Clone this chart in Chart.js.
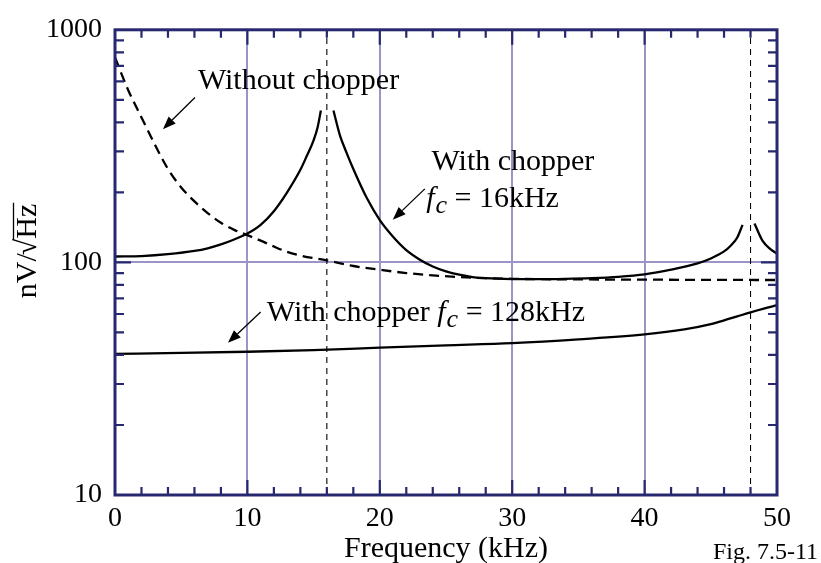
<!DOCTYPE html>
<html><head><meta charset="utf-8">
<script src="https://cdn.jsdelivr.net/npm/chart.js@4"></script>
<style>html,body{margin:0;padding:0;background:#fff}#wrap{width:821px;height:563px;position:relative}</style>
</head><body><div id="wrap"><canvas id="c"></canvas></div>
<script>
// ---- data (frequency in kHz, noise in nV/sqrt(Hz)) ----
const freqNoChop = [0,1,2,3,4,5,6,7,8,9,10,11,12,13,14,16,18,20,22,24,26,28,30,35,40,45,50];
const valNoChop  = [760,550,420,322,252,210,183,163,148,138,131,124,117,111,107,102,96.5,93,90,88,86.5,85.5,85,84.5,84.3,84.1,84];

const freqChop16 = [0,2,4,6,7,8,9,10,11,12,13,14,14.5,15,15.3,15.55,16,16.5,16.8,17,17.5,18,19,20,21,22,23,24,25,26,27,28,30,32,34,36,38,40,42,44,45,46,46.5,47,47.4,48,48.3,48.9,49.5,50];
const valChop16  = [106,106.5,108.5,112,115,119.5,125.5,133,145,166,200,250,288,335,380,450,null,450,385,350,295,252,190,152,129,113,103,96,91.5,88.5,86.5,85.5,84.8,84.7,85,85.6,86.7,88.8,93,99,104,111.5,118,128,145,null,147,124,114,109];

const freqChop128 = [0,5,10,15,20,25,30,35,40,43,45,46,47,48,49,50];
const valChop128  = [40.4,40.8,41.3,42,43,44,45,46.7,49,51.5,54.3,56.3,58.6,61,63.3,65.5];

const markerFreqs = [16,48];          // dashed chopper-frequency markers
const xTickLabels = [0,10,20,30,40,50];
const yTickLabels = [10,100,1000];
const yMinorTicks = [20,30,40,50,60,70,80,90,200,300,400,500,600,700,800,900];

const annotTexts = [
  {text:'Without chopper', x:6.26, y:554},
  {text:'With chopper', x:23.9, y:250},
  {text:'f_c = 16kHz', x:23.5, y:173.5},
  {text:'With chopper f_c = 128kHz', x:11.47, y:56}
];
const annotArrows = [
  {x1:6.04, y1:512, x2:3.62, y2:374},
  {x1:23.4, y1:207, x2:20.98, y2:152.7},
  {x1:11.0, y1:61.2, x2:8.53, y2:45.1}
];

const NAVY = '#27286e';
const GRID = '#9a95c6';
const FONT = '"Liberation Serif", "Times New Roman", serif';

const toPts = (xs, ys) => xs.map((x,i)=>({x:x, y:ys[i]}));

const datasets = [
  {data: toPts(freqNoChop,valNoChop), borderColor:'#000', borderWidth:2.3, borderDash:[10,6], pointRadius:0, cubicInterpolationMode:'monotone', fill:false},
  {data: toPts(freqChop16,valChop16), borderColor:'#000', borderWidth:2.3, pointRadius:0, cubicInterpolationMode:'monotone', spanGaps:false, fill:false},
  {data: toPts(freqChop128,valChop128), borderColor:'#000', borderWidth:2.3, pointRadius:0, cubicInterpolationMode:'monotone', fill:false}
];
markerFreqs.forEach(f => datasets.push({data:[{x:f,y:10},{x:f,y:1000}], borderColor:'#000', borderWidth:1.1, borderDash:[6,5], pointRadius:0, fill:false}));

function drawFcText(ctx, str, px, py, size){
  const parts = str.split('f_c');
  let x = px;
  ctx.textBaseline = 'alphabetic'; ctx.textAlign = 'left';
  parts.forEach((p, i) => {
    ctx.font = size + 'px ' + FONT;
    ctx.fillText(p, x, py); x += ctx.measureText(p).width;
    if (i < parts.length - 1) {
      ctx.font = 'italic ' + size + 'px ' + FONT;
      ctx.fillText('f', x, py); x += ctx.measureText('f').width + 1;
      ctx.font = 'italic ' + Math.round(size*0.85) + 'px ' + FONT;
      ctx.fillText('c', x, py + 6); x += ctx.measureText('c').width;
    }
  });
}

const decor = {
  id:'decor',
  afterDraw(chart){
    const ctx = chart.ctx, a = chart.chartArea, xs = chart.scales.x, ys = chart.scales.y;
    ctx.save();
    ctx.strokeStyle = NAVY; ctx.lineWidth = 2.2;
    ctx.beginPath();
    for (let v = 2; v < 50; v += 2) {
      const px = xs.getPixelForValue(v), len = (v % 10 === 0) ? 15 : 8;
      ctx.moveTo(px, a.bottom); ctx.lineTo(px, a.bottom - len);
      ctx.moveTo(px, a.top); ctx.lineTo(px, a.top + len);
    }
    yMinorTicks.forEach(v => {
      const py = ys.getPixelForValue(v);
      ctx.moveTo(a.left, py); ctx.lineTo(a.left + 9, py);
      ctx.moveTo(a.right, py); ctx.lineTo(a.right - 9, py);
    });
    const p100 = ys.getPixelForValue(100);
    ctx.moveTo(a.left, p100); ctx.lineTo(a.left + 16, p100);
    ctx.moveTo(a.right, p100); ctx.lineTo(a.right - 16, p100);
    ctx.stroke();
    ctx.lineWidth = 3; ctx.strokeStyle = NAVY;
    ctx.strokeRect(a.left, a.top, a.right - a.left, a.bottom - a.top);
    ctx.fillStyle = '#000';
    annotTexts.forEach(t => drawFcText(ctx, t.text, xs.getPixelForValue(t.x), ys.getPixelForValue(t.y), 30));
    annotArrows.forEach(ar => {
      const x1 = xs.getPixelForValue(ar.x1), y1 = ys.getPixelForValue(ar.y1);
      const x2 = xs.getPixelForValue(ar.x2), y2 = ys.getPixelForValue(ar.y2);
      const ang = Math.atan2(y2 - y1, x2 - x1), L = 13, W = 5;
      const bx = x2 - L*Math.cos(ang), by = y2 - L*Math.sin(ang);
      ctx.strokeStyle = '#000'; ctx.lineWidth = 1.3;
      ctx.beginPath(); ctx.moveTo(x1, y1); ctx.lineTo(bx, by); ctx.stroke();
      ctx.beginPath(); ctx.moveTo(x2, y2);
      ctx.lineTo(bx + W*Math.sin(ang), by - W*Math.cos(ang));
      ctx.lineTo(bx - W*Math.sin(ang), by + W*Math.cos(ang));
      ctx.closePath(); ctx.fill();
    });
    ctx.font = '30px ' + FONT; ctx.textAlign = 'center'; ctx.textBaseline = 'alphabetic';
    ctx.fillText('Frequency (kHz)', (a.left + a.right)/2, 557);
    ctx.font = '24px ' + FONT; ctx.textAlign = 'left';
    ctx.fillText('Fig. 7.5-11', 713, 559);
    ctx.translate(36, 250); ctx.rotate(-Math.PI/2);
    ctx.font = '30px ' + FONT; ctx.textAlign = 'left';
    const s1 = 'nV/', s2 = '\u221A', s3 = 'Hz';
    const w1 = ctx.measureText(s1).width, w2 = ctx.measureText(s2).width, w3 = ctx.measureText(s3).width;
    let x0 = -(w1 + w2 + w3)/2;
    ctx.fillText(s1, x0, 0); ctx.fillText(s2, x0 + w1 - 2, 0); ctx.fillText(s3, x0 + w1 + w2 - 2, 0);
    ctx.lineWidth = 1.3; ctx.strokeStyle = '#000';
    ctx.beginPath(); ctx.moveTo(x0 + w1 + w2 - 3, -22.5); ctx.lineTo(x0 + w1 + w2 + w3 - 1, -22.5); ctx.stroke();
    ctx.restore();
  }
};

new Chart(document.getElementById('c'), {
  type:'line',
  data:{datasets:datasets},
  plugins:[decor],
  options:{
    responsive:true, maintainAspectRatio:false, animation:false,
    layout:{padding:{left:0, top:27, right:44, bottom:0}},
    plugins:{legend:{display:false}, tooltip:{enabled:false}},
    elements:{line:{borderCapStyle:'butt'}},
    scales:{
      x:{
        type:'linear', min:0, max:50,
        afterFit(s){ s.height = 68; },
        afterBuildTicks(s){ const t=[]; for(let v=0; v<=50; v+=2) t.push({value:v}); s.ticks = t; },
        ticks:{autoSkip:false, maxRotation:0, padding:7, color:'#000', font:{family:FONT, size:28},
          callback:(v)=> xTickLabels.includes(v) ? String(v) : ''},
        grid:{drawTicks:false, lineWidth:2, color:(c)=> (c.tick && c.tick.value % 10 === 0 && c.tick.value > 0 && c.tick.value < 50) ? GRID : 'rgba(0,0,0,0)'},
        border:{display:false}
      },
      y:{
        type:'logarithmic', min:10, max:1000,
        afterFit(s){ s.width = 115; },
        afterBuildTicks(s){ s.ticks = yTickLabels.map(v=>({value:v})); },
        ticks:{padding:13, color:'#000', font:{family:FONT, size:28}, callback:(v)=> String(v)},
        grid:{drawTicks:false, lineWidth:2, color:(c)=> (c.tick && c.tick.value === 100) ? GRID : 'rgba(0,0,0,0)'},
        border:{display:false}
      }
    }
  }
});
</script></body></html>
